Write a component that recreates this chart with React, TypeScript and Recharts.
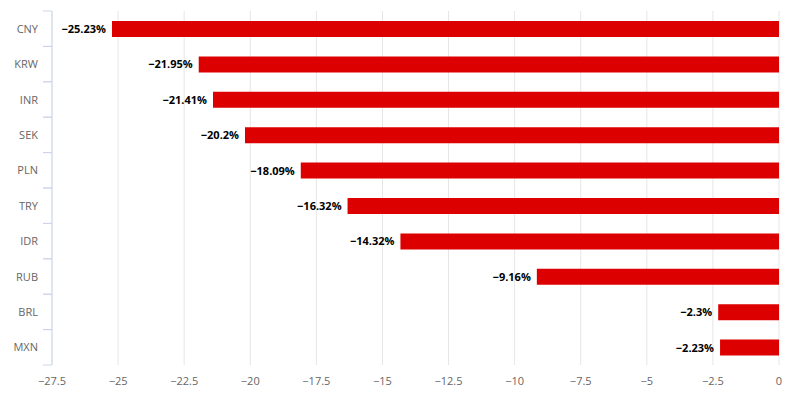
import { BarChart, Bar, XAxis, YAxis, CartesianGrid, LabelList } from "recharts";

const currencies = ["CNY", "KRW", "INR", "SEK", "PLN", "TRY", "IDR", "RUB", "BRL", "MXN"];
const changes = [-25.23, -21.95, -21.41, -20.2, -18.09, -16.32, -14.32, -9.16, -2.3, -2.23];
const xTicks = [-27.5, -25, -22.5, -20, -17.5, -15, -12.5, -10, -7.5, -5, -2.5, 0];

const data = currencies.map((name, i) => ({ name, value: changes[i] }));

const FONT = '"Open Sans", "DejaVu Sans", sans-serif';
const minus = (v: number) => String(v).replace("-", "\u2212");

const TOP = 11;
const PLOT_H = 354;
const BAND = PLOT_H / currencies.length;

function CategoryTick(props: any) {
  const { x, y, payload } = props;
  const axisX = x + 8;
  return (
    <g>
      <line x1={axisX - 9} x2={axisX} y1={y - BAND / 2} y2={y - BAND / 2} stroke="#ccd6eb" />
      <line x1={axisX - 9} x2={axisX} y1={y + BAND / 2} y2={y + BAND / 2} stroke="#ccd6eb" />
      <text x={axisX - 14} y={y} dy={4} textAnchor="end" fill="#666" fontSize={11} fontFamily={FONT}>
        {payload.value}
      </text>
    </g>
  );
}

function ValueLabel(props: any) {
  const { x, y, width, height, value } = props;
  const left = Math.min(x, x + width);
  return (
    <text
      x={left - 6}
      y={y + height / 2}
      dy={4}
      textAnchor="end"
      fontSize={11}
      fontWeight="bold"
      fill="#000"
      fontFamily={FONT}
    >
      {minus(value) + "%"}
    </text>
  );
}

export default function App() {
  return (
    <div style={{ margin: -8, width: 794, height: 404, background: "#fff" }}>
      <BarChart
        width={794}
        height={404}
        data={data}
        layout="vertical"
        margin={{ top: TOP, right: 15, bottom: 0, left: 0 }}
      >
        <CartesianGrid horizontal={false} stroke="#e6e6e6" />
        <XAxis
          type="number"
          domain={[-27.5, 0]}
          ticks={xTicks}
          interval={0}
          tickFormatter={minus}
          axisLine={false}
          tickLine={false}
          height={39}
          tick={{ fill: "#666", fontSize: 11, fontFamily: FONT }}
          tickMargin={6}
        />
        <YAxis
          type="category"
          dataKey="name"
          width={52}
          axisLine={{ stroke: "#ccd6eb" }}
          tickLine={false}
          tick={<CategoryTick />}
        />
        <Bar dataKey="value" fill="#dd0000" barSize={16} isAnimationActive={false}>
          <LabelList dataKey="value" content={<ValueLabel />} />
        </Bar>
      </BarChart>
    </div>
  );
}
